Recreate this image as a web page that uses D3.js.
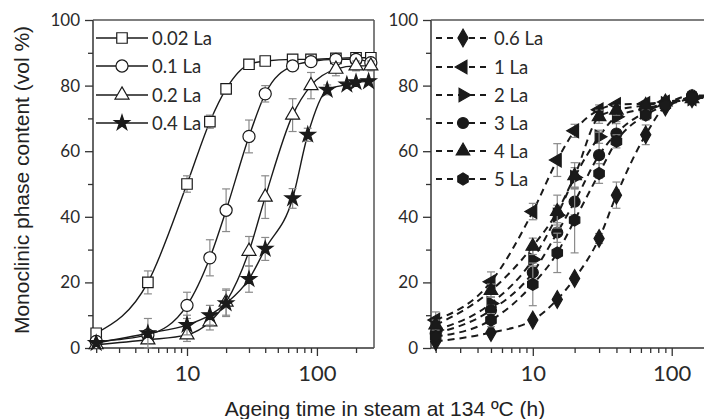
<!DOCTYPE html>
<html><head><meta charset="utf-8">
<script src="https://cdn.jsdelivr.net/npm/d3@7"></script>
<style>body{margin:0;background:#fff}</style></head>
<body>
<svg id="c" width="704" height="419"></svg>
<script>
// ---------- data ----------
const timesL    = [2, 5, 10, 15, 20, 30, 40, 65, 90, 140, 200, 260];
const timesStar = [2, 5, 10, 15, 20, 30, 40, 65, 85, 120, 170, 200, 250];
const la002 = [4.5, 20, 50, 69, 79, 86.5, 87.5, 88, 88, 88.3, 88.5, 88.5];
const la01  = [2, 4, 13, 27.5, 42, 64.5, 77.5, 86, 87.3, 88, 88, 87];
const la02  = [1, 2.5, 4, 8, 14, 29.5, 46, 71, 80, 85, 86, 86];
const la04  = [1.5, 4.5, 7, 10, 13.6, 21, 30.2, 45.6, 65, 78.7, 80.3, 81, 81.3];
const err002 = [1, 3.5, 2.5, 2, 1.5, 1, 1, 1, 1, 1, 1, 1];
const err01  = [1, 1, 4, 5.5, 6.5, 5, 2.5, 1.5, 1, 1, 1, 1];
const err02  = [1, 1, 2, 2.5, 4, 4.5, 6.5, 5, 4, 2, 1.5, 1.5];
const err04  = [1, 4.5, 3, 3, 4, 4, 3.5, 3, 2, 1.5, 1, 1, 1];

const timesR = [2, 5, 10, 15, 20, 30, 40, 65, 90, 140, 200];
const la06 = [2, 4.7, 8.5, 14.8, 21.2, 33.4, 46.6, 65, 73.5, 76, 77];
const la1  = [8.5, 20.2, 41.6, 57.3, 66.2, 72.6, 74.2, 74.5, 75, 76, 76.5];
const la2  = [5.5, 13.6, 27, 40.5, 52, 64.4, 70.5, 73, 74.5, 76, 77];
const la3  = [4.5, 11.5, 23, 35.2, 44.6, 58.8, 65.4, 72, 74.5, 77, 77];
const la4  = [7, 17.5, 31, 41.6, 52.5, 70.5, 72.5, 74, 75, 76, 76.5];
const la5  = [3.5, 8.5, 19.4, 29, 39, 53.2, 63, 71, 74, 76.5, 77];
const err06 = [1, 1, 1, 1, 1, 1.5, 4, 3, 1, 1, 1];
const err1  = [2.5, 3, 2.5, 5, 2, 1.5, 1, 1, 1, 1, 1];
const err2  = [1.5, 2, 3.5, 3, 3, 2, 1.5, 1, 1, 1, 1];
const err3  = [1, 1.5, 2, 3, 4, 7, 3, 1.5, 1, 1, 1];
const err4  = [1.5, 2, 2.5, 5, 4, 2, 1.5, 1, 1, 1, 1];
const err5  = [1, 2, 6.5, 6, 10, 3, 2, 1.5, 1, 1, 1];

const yTicks = [0, 20, 40, 60, 80, 100];
const yMinor = [10, 30, 50, 70, 90];
const xTicks = [10, 100];
const xMinor = [2, 3, 4, 5, 6, 7, 8, 9, 20, 30, 40, 50, 60, 70, 80, 90, 200];

const yTitle = "Monoclinic phase content (vol %)";
const xTitle = "Ageing time in steam at 134 ºC (h)";

// ---------- setup ----------
const svg = d3.select("#c");
const y = d3.scaleLinear().domain([0, 100]).range([348, 20]);
const xL = d3.scaleLog().domain([1.89, 275]).range([93, 374]);
const xR = d3.scaleLog().domain([1.85, 300]).range([431, 738]);
const ink = "#1a1a1a";
const tickFont = "Lato, 'Open Sans', sans-serif";

function hexagon(r) {
  const p = d3.path();
  for (let i = 0; i < 6; i++) {
    const a = Math.PI / 6 + i * Math.PI / 3;
    const px = r * Math.cos(a), py = r * Math.sin(a);
    if (i === 0) p.moveTo(px, py); else p.lineTo(px, py);
  }
  p.closePath();
  return p.toString();
}

function markerPath(kind) {
  switch (kind) {
    case "square": return d3.symbol(d3.symbolSquare, 110)();
    case "circle": return d3.symbol(d3.symbolCircle, 115)();
    case "triangle": return d3.symbol(d3.symbolTriangle, 85)();
    case "star": return d3.symbol(d3.symbolStar, 72)();
    case "diamond": return d3.symbol(d3.symbolDiamond, 90)();
    case "tleft": return d3.symbol(d3.symbolTriangle, 80)();
    case "tright": return d3.symbol(d3.symbolTriangle, 80)();
    case "dot": return d3.symbol(d3.symbolCircle, 95)();
    case "tup": return d3.symbol(d3.symbolTriangle, 80)();
    case "hex": return hexagon(6);
  }
}
function markerRot(kind) {
  if (kind === "tleft") return -90;
  if (kind === "tright") return 90;
  return 0;
}

function drawAxes(x, x0, x1, rightBorder) {
  const g = svg.append("g");
  const ya = g.append("g").attr("transform", `translate(${x0},0)`)
    .call(d3.axisLeft(y).tickValues(yTicks).tickSize(8).tickPadding(5).tickFormat(d3.format("d")));
  ya.append("g").call(d3.axisLeft(y).tickValues(yMinor).tickSize(5).tickFormat(""));
  const xa = g.append("g").attr("transform", `translate(0,${y(0)})`)
    .call(d3.axisBottom(x).tickValues(xTicks).tickSize(8).tickPadding(9).tickFormat(d3.format("d")));
  xa.append("g").call(d3.axisBottom(x).tickValues(xMinor.filter(v => x(v) < x1)).tickSize(5).tickFormat(""));
  g.selectAll(".domain").remove();
  g.selectAll("line").attr("stroke", "#333").attr("stroke-width", 1.3);
  ya.selectAll("text").attr("font-family", tickFont).attr("font-size", 17).attr("fill", "#2a2a2a");
  xa.selectAll("text").attr("font-family", tickFont).attr("font-size", 22).attr("fill", "#2a2a2a");
  const top = y(100), bot = y(0);
  g.append("line").attr("x1", x0).attr("x2", x0).attr("y1", top).attr("y2", bot).attr("stroke", "#333").attr("stroke-width", 1.5);
  g.append("line").attr("x1", x0).attr("x2", x1).attr("y1", bot).attr("y2", bot).attr("stroke", "#333").attr("stroke-width", 1.5);
  g.append("line").attr("x1", x0).attr("x2", x1).attr("y1", top).attr("y2", top).attr("stroke", "#555").attr("stroke-width", 1.5);
  if (rightBorder) g.append("line").attr("x1", x1).attr("x2", x1).attr("y1", top).attr("y2", bot).attr("stroke", "#555").attr("stroke-width", 1.5);
}

function drawSeries(x, times, vals, errs, kind, filled, dashed) {
  const g = svg.append("g");
  const pts = times.map((t, i) => ({ t, v: vals[i], e: errs[i] }));
  const line = d3.line().x(d => x(d.t)).y(d => y(d.v)).curve(d3.curveMonotoneX);
  g.append("path").datum(pts).attr("d", line).attr("fill", "none")
    .attr("stroke", ink).attr("stroke-width", dashed ? 2 : 1.4)
    .attr("stroke-dasharray", dashed ? "7,5" : null);
  const eb = g.append("g").attr("stroke", "#8a8a8a").attr("stroke-width", 1.2);
  pts.filter(d => d.e >= 1.5).forEach(d => {
    const cx = x(d.t);
    eb.append("line").attr("x1", cx).attr("x2", cx).attr("y1", y(d.v - d.e)).attr("y2", y(d.v + d.e));
    eb.append("line").attr("x1", cx - 4).attr("x2", cx + 4).attr("y1", y(d.v - d.e)).attr("y2", y(d.v - d.e));
    eb.append("line").attr("x1", cx - 4).attr("x2", cx + 4).attr("y1", y(d.v + d.e)).attr("y2", y(d.v + d.e));
  });
  g.selectAll("path.m").data(pts).enter().append("path").attr("class", "m")
    .attr("d", markerPath(kind))
    .attr("transform", d => `translate(${x(d.t)},${y(d.v)}) rotate(${markerRot(kind)})`)
    .attr("fill", filled ? ink : "#fff").attr("stroke", ink).attr("stroke-width", 1.2);
}

function drawLegend(items, lx0, lx1, tx, ys, dashed) {
  const g = svg.append("g");
  items.forEach((it, i) => {
    const yy = ys[i];
    g.append("line").attr("x1", lx0).attr("x2", lx1).attr("y1", yy).attr("y2", yy)
      .attr("stroke", ink).attr("stroke-width", dashed ? 2 : 1.4)
      .attr("stroke-dasharray", dashed ? "6,5" : null);
    g.append("path").attr("d", markerPath(it.kind))
      .attr("transform", `translate(${(lx0 + lx1) / 2},${yy}) rotate(${markerRot(it.kind)})`)
      .attr("fill", it.filled ? ink : "#fff").attr("stroke", ink).attr("stroke-width", 1.2);
    g.append("text").attr("x", tx).attr("y", yy).attr("dy", "0.36em")
      .attr("font-family", tickFont).attr("font-size", 18.5).attr("fill", "#2a2a2a").text(it.name);
  });
}

// ---------- left panel ----------
drawAxes(xL, 93, 374, true);
drawSeries(xL, timesL, la002, err002, "square", false, false);
drawSeries(xL, timesL, la01, err01, "circle", false, false);
drawSeries(xL, timesL, la02, err02, "triangle", false, false);
drawSeries(xL, timesStar, la04, err04, "star", true, false);
drawLegend([
  { name: "0.02 La", kind: "square", filled: false },
  { name: "0.1 La", kind: "circle", filled: false },
  { name: "0.2 La", kind: "triangle", filled: false },
  { name: "0.4 La", kind: "star", filled: true }
], 96, 148, 152, [38, 66, 95, 123], false);

// ---------- right panel ----------
drawAxes(xR, 431, 760, false);
drawSeries(xR, timesR, la06, err06, "diamond", true, true);
drawSeries(xR, timesR, la1, err1, "tleft", true, true);
drawSeries(xR, timesR, la2, err2, "tright", true, true);
drawSeries(xR, timesR, la3, err3, "dot", true, true);
drawSeries(xR, timesR, la4, err4, "tup", true, true);
drawSeries(xR, timesR, la5, err5, "hex", true, true);
drawLegend([
  { name: "0.6 La", kind: "diamond", filled: true },
  { name: "1 La", kind: "tleft", filled: true },
  { name: "2 La", kind: "tright", filled: true },
  { name: "3 La", kind: "dot", filled: true },
  { name: "4 La", kind: "tup", filled: true },
  { name: "5 La", kind: "hex", filled: true }
], 436, 490, 494, [38, 67, 95, 123, 151, 179], true);

// ---------- titles ----------
svg.append("text").attr("transform", "translate(29,180) rotate(-90)")
  .attr("text-anchor", "middle").attr("font-family", "'Liberation Sans', Arial, sans-serif")
  .attr("font-size", 21).attr("fill", "#222").text(yTitle);
svg.append("text").attr("x", 385).attr("y", 416)
  .attr("text-anchor", "middle").attr("font-family", "'Liberation Sans', Arial, sans-serif")
  .attr("font-size", 21).attr("fill", "#222").text(xTitle);
</script>
</body></html>
